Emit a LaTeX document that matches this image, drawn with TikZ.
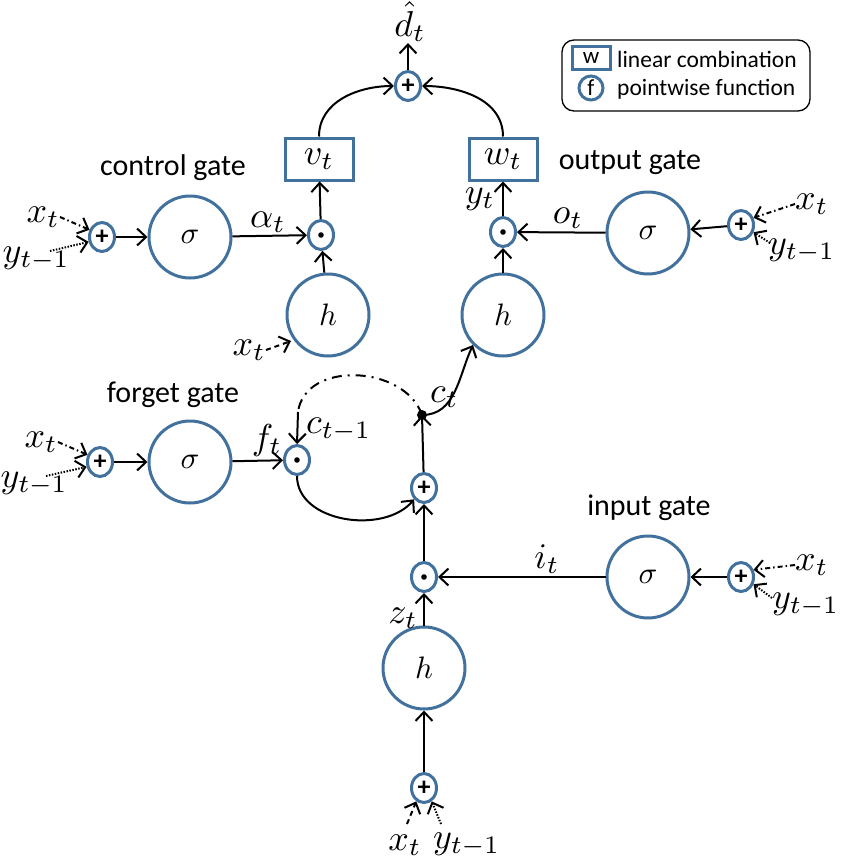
\RequirePackage{fix-cm}
\documentclass[tikz,border=0pt]{standalone}
\usepackage{fontspec}
\usepackage{graphicx}
\setmainfont{Carlito}
\usetikzlibrary{arrows.meta,shapes.geometric}
\definecolor{cblue}{HTML}{41719C}
\newcommand{\mth}[1]{\scalebox{3.1}{$#1$}}
\newcommand{\mlb}[1]{\scalebox{3.6}{$#1$}}
\tikzset{
  big/.style={circle,draw=cblue,line width=3pt,minimum size=82pt,inner sep=0pt},
  small/.style={ellipse,draw=cblue,line width=3pt,minimum width=25pt,minimum height=29pt,inner sep=0pt,font=\fontsize{26}{28}\selectfont},
  lbox/.style={rectangle,draw=cblue,line width=3pt,minimum width=68pt,minimum height=42pt,inner sep=0pt},
  lab/.style={inner sep=0pt},
  gtxt/.style={inner sep=0pt,font=\fontsize{30}{32}\selectfont},
  ltxt/.style={anchor=west,inner sep=0pt,font=\fontsize{23.5}{25}\selectfont},
  arr/.style={line width=2pt,-{Straight Barb[length=9pt,width=17pt,line width=2pt]}},
  dd/.style={arr,dash pattern=on 5pt off 3pt on 1.5pt off 3pt},
  dt/.style={arr,dash pattern=on 1.5pt off 1.5pt},
  ds/.style={arr,dash pattern=on 5pt off 4pt},
}
\newcommand{\pdot}{\tikz\fill (0,0) circle (2.8pt);}
\newcommand{\pplus}{\textbf{+}}
\begin{document}
\begin{tikzpicture}[x=1pt,y=-1pt]
\useasboundingbox (0,0) rectangle (856,863);
% legend
\draw[line width=1.3pt,rounded corners=12pt] (562,40) rectangle (810,111);
\node[rectangle,draw=cblue,line width=3pt,minimum width=38pt,minimum height=23pt,inner sep=0pt,font=\fontsize{23}{24}\selectfont] (lw) at (591,58) {w};
\node[ltxt] (lwt) at (617,59) {linear combination};
\node[circle,draw=cblue,line width=3pt,minimum size=24pt,inner sep=0pt,font=\fontsize{23}{24}\selectfont] (lf) at (591,88) {f};
\node[ltxt] (lft) at (617,89) {pointwise function};

% control gate
\node[small] (cp) at (102,237) {\pplus};
\node[big] (cs) at (190,237) {\mth{\sigma}};
\node[small] (cdt) at (321,235) {\pdot};
\node[big] (ch) at (328,315) {\mth{h}};
\node[lbox] (vt) at (319,159) {\mlb{v_t}};
\node[gtxt] (cgl) at (173,168) {control gate};
\node[lab] (alab) at (268,222) {\mlb{\alpha_t}};
\node[lab,anchor=east] (cx) at (60,217) {\mlb{x_t}};
\node[lab,anchor=east] (cy) at (70,259) {\mlb{y_{t-1}}};
\node[lab,anchor=east] (chx) at (266,350) {\mlb{x_t}};
\draw[dd] (cx.east) -- (cp.150);
\draw[dt] (50,251) -- (cp.200);
\draw[arr] (cp) -- (cs);
\draw[arr] (cs) -- (cdt);
\draw[arr] (ch) -- (cdt);
\draw[arr] (cdt) -- (vt);
\draw[ds] (chx.east) -- (291,341);

% top
\node[small] (tp) at (408,86) {\pplus};
\node[lab,anchor=south] (dh) at (410,42) {\mlb{\hat{d}_t}};
\draw[arr] (tp) -- (408,43);
\node[lbox] (wt) at (503,159) {\mlb{w_t}};
\draw[arr] (vt.north) to[out=90,in=180] (tp.west);
\draw[arr] (wt.north) to[out=90,in=0] (tp.east);

% output gate
\node[small] (odt) at (503,232) {\pdot};
\node[big] (oh) at (503,315) {\mth{h}};
\node[big] (os) at (648,233) {\mth{\sigma}};
\node[small] (op) at (741,225) {\pplus};
\node[gtxt] (ogl) at (630,163) {output gate};
\node[lab] (yl) at (480,199) {\mlb{y_t}};
\node[lab] (ol) at (568,218) {\mlb{o_t}};
\node[lab,anchor=west] (ox) at (795,204) {\mlb{x_t}};
\node[lab,anchor=west] (oy) at (768,251) {\mlb{y_{t-1}}};
\draw[dd] (ox.west) -- (op.30);
\draw[dt] (770,243) -- (op.330);
\draw[arr] (oh) -- (odt);
\draw[arr] (odt) -- (wt);
\draw[arr] (os) -- (odt);
\draw[arr] (op) -- (os);

% forget gate
\node[small] (fp) at (100,462) {\pplus};
\node[big] (fs) at (190,462) {\mth{\sigma}};
\node[small] (fd) at (297,460) {\pdot};
\node[gtxt] (fgl) at (173,395) {forget gate};
\node[lab] (fl) at (267,440) {\mlb{f_t}};
\node[lab,anchor=east] (fx) at (58,442) {\mlb{x_t}};
\node[lab,anchor=east] (fy) at (68,484) {\mlb{y_{t-1}}};
\draw[dd] (fx.east) -- (fp.150);
\draw[dt] (46,476) -- (fp.200);
\draw[arr] (fp) -- (fs);
\draw[arr] (fs) -- (fd);

% cell
\coordinate (cdot) at (422,415);
\fill (cdot) circle (5pt);
\node[lab,anchor=west] (ctl) at (430,397) {\mlb{c_t}};
\node[lab,anchor=west] (ctm) at (306,430) {\mlb{c_{t-1}}};
\node[small] (ap) at (424,488) {\pplus};
\draw[line width=2pt,dash pattern=on 10pt off 6pt on 2pt off 6pt] (cdot) .. controls (405,365) and (305,360) .. (298,412);
\draw[arr] (298,412) -- (fd.north);
\draw[arr] (fd.south) to[out=-90,in=-130] (ap.south west);
\draw[arr] (ap) -- (cdot);
\draw[arr] (cdot) to[out=0,in=-115] (oh.south west);

% input gate
\node[small] (idt) at (424,577) {\pdot};
\node[big] (is) at (648,577) {\mth{\sigma}};
\node[small] (ip) at (741,577) {\pplus};
\node[gtxt] (igl) at (649,508) {input gate};
\node[lab] (il) at (547,559) {\mlb{i_t}};
\node[lab,anchor=west] (ix) at (795,565) {\mlb{x_t}};
\node[lab,anchor=west] (iy) at (772,605) {\mlb{y_{t-1}}};
\draw[arr] (idt) -- (ap);
\draw[arr] (is) -- (idt);
\draw[arr] (ip) -- (is);
\draw[dd] (ix.west) -- (ip.30);
\draw[dt] (772,598) -- (ip.330);

% bottom
\node[big] (zh) at (424,668) {\mth{h}};
\node[lab] (zl) at (403,618) {\mlb{z_t}};
\node[small] (bp) at (424,788) {\pplus};
\node[lab] (bx) at (405,845) {\mlb{x_t}};
\node[lab,anchor=west] (by) at (433,845) {\mlb{y_{t-1}}};
\draw[arr] (zh) -- (idt);
\draw[arr] (bp) -- (zh);
\draw[ds] (407,824) -- (bp.240);
\draw[dt] (441,824) -- (bp.300);
\end{tikzpicture}
\end{document}
